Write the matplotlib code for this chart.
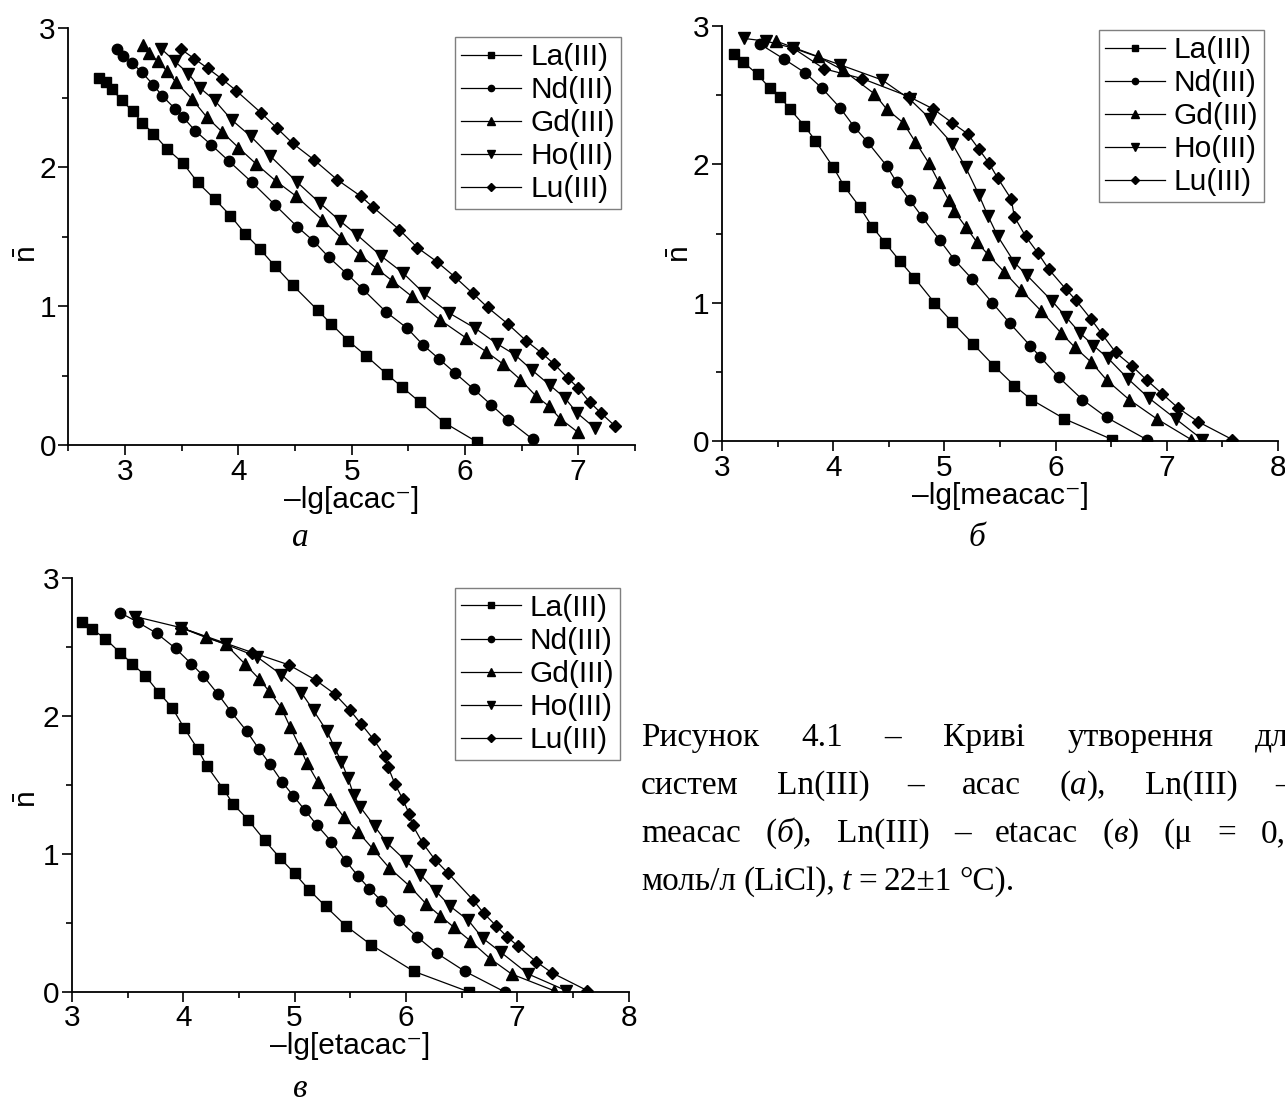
import matplotlib
matplotlib.use("Agg")
import matplotlib.pyplot as plt
from matplotlib.ticker import MultipleLocator

plt.rcParams["font.family"] = ["Liberation Sans", "DejaVu Sans"]
plt.rcParams["mathtext.fontset"] = "custom"
plt.rcParams["mathtext.rm"] = "Liberation Sans"
plt.rcParams["mathtext.it"] = "Liberation Sans:italic"

# ---- дані: панель (а), Ln(III) - acac ----
a_la_x = [2.77, 2.83, 2.885, 2.97, 3.07, 3.15, 3.25, 3.37, 3.51, 3.64, 3.79, 3.93, 4.06, 4.19, 4.32, 4.48,
          4.70, 4.82, 4.97, 5.13, 5.31, 5.44, 5.60, 5.82, 6.11]
a_la_y = [2.64, 2.61, 2.56, 2.48, 2.40, 2.32, 2.24, 2.13, 2.03, 1.89, 1.77, 1.65, 1.52, 1.41, 1.29, 1.15,
          0.97, 0.87, 0.75, 0.64, 0.51, 0.42, 0.31, 0.16, 0.02]
a_nd_x = [2.93, 2.98, 3.06, 3.15, 3.25, 3.33, 3.44, 3.51, 3.62, 3.76, 3.92, 4.12, 4.32, 4.52, 4.66, 4.80,
          4.96, 5.10, 5.30, 5.49, 5.63, 5.77, 5.91, 6.08, 6.23, 6.38, 6.60]
a_nd_y = [2.85, 2.80, 2.75, 2.68, 2.59, 2.51, 2.42, 2.36, 2.26, 2.16, 2.04, 1.89, 1.73, 1.57, 1.47, 1.35,
          1.23, 1.12, 0.96, 0.84, 0.72, 0.62, 0.52, 0.40, 0.29, 0.18, 0.04]
a_gd_x = [3.16, 3.21, 3.29, 3.37, 3.45, 3.59, 3.72, 3.86, 4.00, 4.16, 4.33, 4.51, 4.74, 4.91, 5.07, 5.22,
          5.36, 5.53, 5.78, 6.01, 6.19, 6.34, 6.49, 6.63, 6.74, 6.84, 7.00]
a_gd_y = [2.88, 2.82, 2.76, 2.69, 2.61, 2.49, 2.36, 2.25, 2.14, 2.02, 1.90, 1.79, 1.62, 1.49, 1.37, 1.27,
          1.18, 1.07, 0.90, 0.77, 0.67, 0.58, 0.47, 0.35, 0.28, 0.19, 0.09]
a_ho_x = [3.32, 3.44, 3.56, 3.66, 3.79, 3.94, 4.11, 4.28, 4.52, 4.72, 4.90, 5.05, 5.26, 5.45, 5.64, 5.86,
          6.09, 6.28, 6.44, 6.59, 6.75, 6.88, 6.99, 7.15]
a_ho_y = [2.85, 2.76, 2.67, 2.57, 2.48, 2.34, 2.22, 2.08, 1.89, 1.74, 1.61, 1.51, 1.36, 1.24, 1.09, 0.95,
          0.84, 0.73, 0.65, 0.54, 0.43, 0.34, 0.23, 0.12]
a_lu_x = [3.49, 3.61, 3.73, 3.86, 3.98, 4.20, 4.34, 4.48, 4.67, 4.87, 5.08, 5.19, 5.42, 5.58, 5.75, 5.91,
          6.07, 6.20, 6.38, 6.54, 6.68, 6.79, 6.91, 7.00, 7.10, 7.20, 7.32]
a_lu_y = [2.85, 2.78, 2.71, 2.63, 2.55, 2.39, 2.28, 2.17, 2.05, 1.91, 1.79, 1.71, 1.55, 1.42, 1.32, 1.21,
          1.09, 0.99, 0.87, 0.75, 0.66, 0.58, 0.48, 0.41, 0.31, 0.23, 0.14]

# ---- панель (б), Ln(III) - meacac ----
b_la_x = [3.11, 3.19, 3.32, 3.43, 3.52, 3.61, 3.74, 3.84, 4.00, 4.10, 4.24, 4.35, 4.47, 4.60, 4.73, 4.91,
          5.07, 5.26, 5.45, 5.63, 5.78, 6.08, 6.51]
b_la_y = [2.80, 2.74, 2.65, 2.55, 2.49, 2.40, 2.28, 2.17, 1.98, 1.84, 1.69, 1.55, 1.43, 1.30, 1.18, 1.00,
          0.86, 0.70, 0.54, 0.40, 0.30, 0.16, 0.01]
b_nd_x = [3.34, 3.56, 3.75, 3.90, 4.06, 4.19, 4.31, 4.48, 4.57, 4.69, 4.80, 4.96, 5.09, 5.25, 5.43, 5.59,
          5.77, 5.86, 6.03, 6.24, 6.46, 6.82]
b_nd_y = [2.87, 2.76, 2.66, 2.55, 2.41, 2.27, 2.16, 1.99, 1.87, 1.74, 1.62, 1.45, 1.31, 1.17, 1.00, 0.85,
          0.69, 0.61, 0.46, 0.30, 0.17, 0.01]
b_gd_x = [3.49, 3.86, 4.09, 4.37, 4.48, 4.63, 4.74, 4.86, 4.95, 5.04, 5.09, 5.19, 5.29, 5.39, 5.54, 5.69,
          5.87, 6.05, 6.17, 6.32, 6.46, 6.66, 6.91, 7.22]
b_gd_y = [2.89, 2.78, 2.68, 2.51, 2.40, 2.30, 2.16, 2.01, 1.87, 1.74, 1.66, 1.55, 1.44, 1.35, 1.22, 1.09,
          0.94, 0.78, 0.68, 0.57, 0.44, 0.30, 0.16, 0.01]
b_ho_x = [3.20, 3.40, 3.64, 4.06, 4.44, 4.69, 4.87, 5.07, 5.19, 5.31, 5.39, 5.48, 5.63, 5.74, 5.97, 6.09,
          6.22, 6.34, 6.47, 6.65, 6.84, 7.08, 7.32]
b_ho_y = [2.91, 2.89, 2.84, 2.72, 2.61, 2.47, 2.33, 2.15, 1.98, 1.78, 1.63, 1.48, 1.29, 1.20, 1.01, 0.90,
          0.78, 0.69, 0.60, 0.45, 0.31, 0.16, 0.01]
b_lu_x = [3.64, 3.92, 4.26, 4.68, 4.90, 5.07, 5.21, 5.31, 5.40, 5.48, 5.60, 5.63, 5.73, 5.84, 5.94, 6.09,
          6.18, 6.32, 6.42, 6.54, 6.69, 6.82, 6.96, 7.10, 7.28, 7.59]
b_lu_y = [2.84, 2.69, 2.62, 2.49, 2.40, 2.30, 2.22, 2.11, 2.01, 1.90, 1.75, 1.62, 1.48, 1.36, 1.24, 1.10,
          1.02, 0.88, 0.77, 0.64, 0.54, 0.44, 0.34, 0.24, 0.14, 0.01]

# ---- панель (в), Ln(III) - etacac ----
c_la_x = [3.09, 3.18, 3.30, 3.43, 3.54, 3.66, 3.78, 3.90, 4.01, 4.13, 4.21, 4.36, 4.45, 4.58, 4.73, 4.87,
          5.00, 5.13, 5.28, 5.46, 5.69, 6.07, 6.57]
c_la_y = [2.68, 2.63, 2.56, 2.46, 2.38, 2.29, 2.17, 2.06, 1.91, 1.76, 1.64, 1.47, 1.36, 1.25, 1.10, 0.97,
          0.86, 0.74, 0.62, 0.48, 0.34, 0.15, 0.00]
c_nd_x = [3.43, 3.59, 3.76, 3.93, 4.07, 4.18, 4.31, 4.43, 4.57, 4.68, 4.78, 4.89, 4.99, 5.09, 5.20, 5.33,
          5.46, 5.57, 5.67, 5.78, 5.94, 6.10, 6.28, 6.53, 6.89]
c_nd_y = [2.75, 2.68, 2.60, 2.49, 2.38, 2.29, 2.16, 2.03, 1.89, 1.76, 1.65, 1.52, 1.42, 1.32, 1.21, 1.09,
          0.95, 0.84, 0.75, 0.66, 0.52, 0.40, 0.28, 0.15, 0.00]
c_gd_x = [3.98, 4.20, 4.38, 4.55, 4.68, 4.77, 4.88, 4.96, 5.05, 5.11, 5.21, 5.32, 5.44, 5.57, 5.70, 5.85,
          6.03, 6.18, 6.31, 6.43, 6.58, 6.76, 6.95, 7.33]
c_gd_y = [2.64, 2.57, 2.52, 2.38, 2.27, 2.18, 2.06, 1.92, 1.77, 1.66, 1.52, 1.40, 1.27, 1.16, 1.04, 0.90,
          0.77, 0.64, 0.55, 0.47, 0.37, 0.24, 0.13, 0.01]
c_ho_x = [3.57, 3.98, 4.38, 4.66, 4.88, 5.06, 5.17, 5.29, 5.36, 5.42, 5.48, 5.53, 5.59, 5.72, 5.83, 6.00,
          6.13, 6.27, 6.40, 6.56, 6.69, 6.85, 7.10, 7.44]
c_ho_y = [2.72, 2.64, 2.52, 2.43, 2.30, 2.17, 2.04, 1.89, 1.77, 1.67, 1.55, 1.43, 1.34, 1.20, 1.08, 0.95,
          0.85, 0.73, 0.62, 0.52, 0.39, 0.29, 0.13, 0.01]
c_lu_x = [3.98, 4.62, 4.95, 5.19, 5.36, 5.50, 5.60, 5.71, 5.81, 5.84, 5.90, 5.97, 6.03, 6.06, 6.15, 6.26,
          6.38, 6.60, 6.70, 6.81, 6.91, 7.01, 7.17, 7.31, 7.63]
c_lu_y = [2.64, 2.46, 2.37, 2.26, 2.16, 2.04, 1.94, 1.83, 1.71, 1.63, 1.51, 1.40, 1.29, 1.21, 1.08, 0.96,
          0.86, 0.67, 0.57, 0.48, 0.40, 0.33, 0.22, 0.14, 0.01]

labels = ["La(III)", "Nd(III)", "Gd(III)", "Ho(III)", "Lu(III)"]
markers = ["s", "o", "^", "v", "D"]
msizes = [7, 7.5, 8.5, 8.5, 6.5]

W, H = 1285, 1101
FS = 21.5
fig = plt.figure(figsize=(W / 100, H / 100), dpi=100)


def px_axes(x0, x1, ytop, ybot):
    return fig.add_axes([x0 / W, 1 - ybot / H, (x1 - x0) / W, (ybot - ytop) / H])


def draw_panel(ax, series, xlim, xlabel, leg_anchor, ylab_xy):
    for (xs, ys), lab, m, ms in zip(series, labels, markers, msizes):
        ax.plot(xs, ys, color="black", lw=0.9, marker=m, ms=ms, mfc="black", mec="black", label=lab)
    ax.set_xlim(*xlim)
    ax.set_ylim(0, 3)
    ax.spines["top"].set_visible(False)
    ax.spines["right"].set_visible(False)
    ax.spines["left"].set_linewidth(1.3)
    ax.spines["bottom"].set_linewidth(1.3)
    ax.xaxis.set_major_locator(MultipleLocator(1))
    ax.xaxis.set_minor_locator(MultipleLocator(0.5))
    ax.yaxis.set_major_locator(MultipleLocator(1))
    ax.yaxis.set_minor_locator(MultipleLocator(0.5))
    ax.tick_params(which="major", direction="out", length=7, width=1.2, labelsize=FS, pad=2)
    ax.tick_params(which="minor", direction="out", length=4, width=1.2)
    ax.set_xlabel(xlabel, fontsize=FS, labelpad=0)
    ax.set_ylabel(r"$\bar{\mathrm{n}}$", fontsize=FS)
    ax.yaxis.set_label_coords(*ylab_xy)
    leg = ax.legend(loc="upper right", bbox_to_anchor=leg_anchor, borderaxespad=0, fontsize=FS,
                    frameon=True, fancybox=False, edgecolor="#7f7f7f", framealpha=1,
                    handlelength=2.0, handletextpad=0.3, labelspacing=0.17, borderpad=0.2,
                    markerscale=0.6)
    leg.get_frame().set_linewidth(1.0)


ax_a = px_axes(68.4, 634.9, 28, 445)
draw_panel(ax_a, [(a_la_x, a_la_y), (a_nd_x, a_nd_y), (a_gd_x, a_gd_y), (a_ho_x, a_ho_y), (a_lu_x, a_lu_y)],
           (2.5, 7.5), "\u2013lg[acac\u207b]", (0.975, 0.978), (-0.047, 0.456))

ax_b = px_axes(722, 1278, 26, 441)
draw_panel(ax_b, [(b_la_x, b_la_y), (b_nd_x, b_nd_y), (b_gd_x, b_gd_y), (b_ho_x, b_ho_y), (b_lu_x, b_lu_y)],
           (3, 8), "\u2013lg[meacac\u207b]", (0.975, 0.99), (-0.049, 0.448))

ax_c = px_axes(72, 628.5, 578, 992)
draw_panel(ax_c, [(c_la_x, c_la_y), (c_nd_x, c_nd_y), (c_gd_x, c_gd_y), (c_ho_x, c_ho_y), (c_lu_x, c_lu_y)],
           (3, 8), "\u2013lg[etacac\u207b]", (0.985, 0.976), (-0.054, 0.464))

# підписи панелей
serif = "Liberation Serif"
CFS = 24
for s, x, y in [("а", 300, 546), ("б", 977, 546), ("в", 300, 1097)]:
    fig.text(x / W, 1 - y / H, s, fontsize=CFS, family=serif, style="italic", ha="center", va="baseline")

# підпис рисунка (вирівнювання по ширині)
renderer = fig.canvas.get_renderer()


def width_of(s, italic):
    t = fig.text(0, 0, s, fontsize=CFS, family=serif, style="italic" if italic else "normal")
    w = t.get_window_extent(renderer).width
    t.remove()
    return w


def put_line(words, base_y, x0, x1=None, space=None):
    widths = [[width_of(s, it) for s, it in w] for w in words]
    totals = [sum(ws) for ws in widths]
    if x1 is not None:
        gap = (x1 - x0 - sum(totals)) / (len(words) - 1)
    else:
        gap = space
    x = x0
    for w, ws in zip(words, widths):
        for (s, it), pw in zip(w, ws):
            fig.text(x / W, 1 - base_y / H, s, fontsize=CFS, family=serif,
                     style="italic" if it else "normal", va="baseline")
            x += pw
        x += gap


N = False
I = True
line1 = [[("Рисунок", N)], [("4.1", N)], [("–", N)], [("Криві", N)], [("утворення", N)], [("для", N)]]
line2 = [[("систем", N)], [("Ln(III)", N)], [("–", N)], [("acac", N)], [("(", N), ("а", I), ("),", N)],
         [("Ln(III)", N)], [("–", N)]]
line3 = [[("meacac", N)], [("(", N), ("б", I), ("),", N)], [("Ln(III)", N)], [("–", N)], [("etacac", N)],
         [("(", N), ("в", I), (")", N)], [("(μ", N)], [("=", N)], [("0,1", N)]]
line4 = [[("моль/л", N)], [("(LiCl),", N)], [("t", I)], [("=", N)], [("22±1", N)], [("°C).", N)]]

put_line(line1, 746, 641, 1304)
put_line(line2, 794, 641, 1292)
put_line(line3, 842, 641, 1302)
put_line(line4, 890, 641, space=7)

fig.savefig("out.png", dpi=100)
